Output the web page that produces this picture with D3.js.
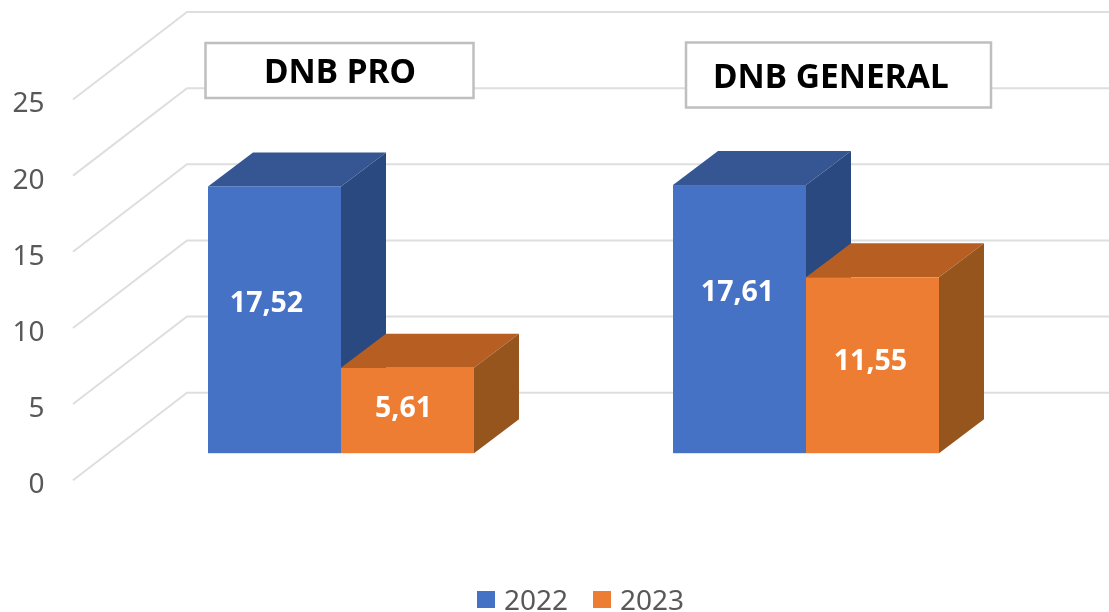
<!DOCTYPE html>
<html lang="en">
<head>
    <meta charset="UTF-8">
    <title>DNB PRO / DNB GENERAL</title>
    <script src="https://d3js.org/d3.v7.min.js"></script>
    <style>
        body { margin: 0; padding: 0; background: #fff; overflow: hidden; }
        svg { display: block; font-family: "Noto Sans", sans-serif; }
        .grid { stroke: #dedede; stroke-width: 2; fill: none; }
        .tick-axis text { fill: #595959; font-size: 28px; }
        .bar-label { fill: #fff; font-weight: 700; font-size: 28.5px; text-anchor: middle; }
        .title-box { fill: #fff; stroke: #bfbfbf; stroke-width: 2.5; }
        .title-text { fill: #000; font-weight: 700; font-size: 33.5px; }
        .legend-text { fill: #595959; font-size: 28px; }
    </style>
</head>
<body>
    <svg width="1109" height="612"></svg>

    <script>
        // Data
        const groups = ["DNB PRO", "DNB GENERAL"];
        const years = ["2022", "2023"];
        const values2022 = [17.52, 17.61];
        const values2023 = [5.61, 11.55];
        const labels2022 = ["17,52", "17,61"];
        const labels2023 = ["5,61", "11,55"];
        const yTicks = [0, 5, 10, 15, 20, 25];

        const svg = d3.select("svg");
        const blur = svg.append("defs").append("filter").attr("id", "soft");
        blur.append("feGaussianBlur").attr("stdDeviation", 0.5);
        const root = svg.append("g").attr("filter", "url(#soft)");

        // Layout of the fake 3D box
        const wallLeft = 187, wallRight = 1109;
        const floorDx = -114, floorDy = 87.5;   // back wall -> front edge of the floor
        const barPlaneDy = 60.5;                // back wall -> front face of the bars
        const depthX = 45, depthY = -34;        // depth of a bar

        const colors = {
            "2022": { front: "#4472c4", top: "#345692", side: "#2b4a80" },
            "2023": { front: "#ed7d31", top: "#b75f22", side: "#96541f" }
        };

        // Scales
        const y = d3.scaleLinear().domain([0, 25]).range([392.7, 12]);
        const x0 = d3.scaleBand().domain(groups).range([108.5, 1038.5])
            .paddingInner(0.428).paddingOuter(0.214);
        const x1 = d3.scaleBand().domain(years).range([0, x0.bandwidth()]);

        // Gridlines: floor line + back wall line
        root.append("g").selectAll("path")
            .data(yTicks)
            .join("path")
            .attr("class", "grid")
            .attr("d", d => {
                const p = d3.path();
                p.moveTo(wallLeft + floorDx, y(d) + floorDy);
                p.lineTo(wallLeft, y(d));
                p.lineTo(wallRight, y(d));
                return p.toString();
            });

        // Y axis, numbers only
        const yLabels = d3.scaleLinear().domain(y.domain()).range([484, 103]);
        root.append("g")
            .attr("class", "tick-axis")
            .attr("transform", "translate(44.5,0)")
            .call(d3.axisLeft(yLabels).tickValues(yTicks).tickSize(0).tickPadding(0))
            .call(g => g.select(".domain").remove())
            .attr("font-family", null);

        // Bars, flattened per group and series
        const bars = [];
        groups.forEach((g, i) => {
            bars.push({ group: g, year: "2022", value: values2022[i], label: labels2022[i] });
            bars.push({ group: g, year: "2023", value: values2023[i], label: labels2023[i] });
        });

        root.append("g").selectAll("g")
            .data(bars)
            .join("g")
            .each(function (d) {
                const g = d3.select(this);
                const left = x0(d.group) + x1(d.year);
                const right = left + x1.bandwidth();
                const base = y(0) + barPlaneDy;
                const top = y(d.value) + barPlaneDy;
                const c = colors[d.year];

                // top face
                g.append("path").attr("fill", c.top)
                    .attr("d", d3.line()([[left, top], [left + depthX, top + depthY],
                        [right + depthX, top + depthY], [right, top]]) + "Z");
                // side face
                g.append("path").attr("fill", c.side)
                    .attr("d", d3.line()([[right, top], [right + depthX, top + depthY],
                        [right + depthX, base + depthY], [right, base]]) + "Z");
                // front face
                g.append("rect").attr("fill", c.front)
                    .attr("x", left).attr("y", top)
                    .attr("width", x1.bandwidth()).attr("height", base - top);
            });

        // Value labels were nudged by hand in the original chart
        const labelNudge = [[-8, -18], [-4, -3], [-2, -28], [-2, -5]];
        root.append("g").selectAll("text")
            .data(bars)
            .join("text")
            .attr("class", "bar-label")
            .attr("x", d => x0(d.group) + x1(d.year) + x1.bandwidth() / 2)
            .attr("y", d => (y(d.value) + y(0)) / 2 + barPlaneDy)
            .attr("dx", (d, i) => labelNudge[i][0])
            .attr("dy", (d, i) => labelNudge[i][1] + 10)
            .text(d => d.label);

        // Title boxes sit on top of the chart
        const titleBoxes = [
            { x: 205.5, y: 43, w: 268, h: 55, tx: 264, ty: 83 },
            { x: 686, y: 42.5, w: 305, h: 65, tx: 713, ty: 88 }
        ];
        const titles = root.append("g").selectAll("g")
            .data(groups)
            .join("g");
        titles.append("rect")
            .attr("class", "title-box")
            .attr("x", (d, i) => titleBoxes[i].x)
            .attr("y", (d, i) => titleBoxes[i].y)
            .attr("width", (d, i) => titleBoxes[i].w)
            .attr("height", (d, i) => titleBoxes[i].h);
        titles.append("text")
            .attr("class", "title-text")
            .attr("x", (d, i) => titleBoxes[i].tx)
            .attr("y", (d, i) => titleBoxes[i].ty)
            .text(d => d);

        // Legend
        const legendX = d3.scalePoint().domain(years).range([477, 593]);
        const legend = root.append("g").selectAll("g")
            .data(years)
            .join("g")
            .attr("transform", d => `translate(${legendX(d)},591)`);
        legend.append("rect")
            .attr("width", 18).attr("height", 17)
            .attr("fill", d => colors[d].front);
        legend.append("text")
            .attr("class", "legend-text")
            .attr("x", 27).attr("y", 18.5)
            .text(d => d);
    </script>
</body>
</html>
